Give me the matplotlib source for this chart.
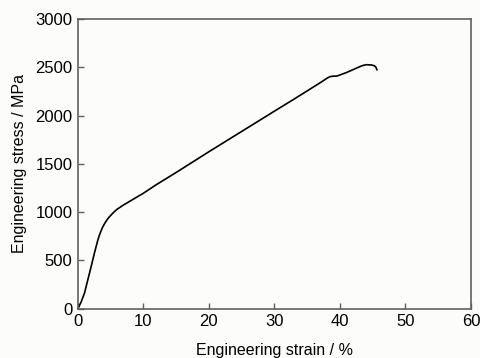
import numpy as np
import matplotlib
matplotlib.use('Agg')
import matplotlib.pyplot as plt

plt.rcParams['font.family'] = ['Liberation Sans', 'DejaVu Sans']

# engineering stress-strain curve
strain = [0, 0.5, 1.0, 1.5, 2.0, 2.5, 3.0, 3.25, 3.5, 3.75, 4.0, 4.25, 4.5, 4.75, 5.0,
          5.5, 6.0, 7.0, 8.0, 9.0, 10, 11, 12, 15, 20, 25, 30, 33, 35, 37, 37.5, 38,
          38.5, 39, 39.5, 40, 41, 42, 43, 43.5, 44.0, 44.8, 45.3, 45.5, 45.65]
stress = [0, 70, 160, 295, 430, 570, 700, 755, 800, 840, 872, 900, 925, 947, 965,
          1000, 1030, 1075, 1115, 1155, 1195, 1240, 1285, 1410, 1625, 1835, 2045, 2170,
          2255, 2340, 2362, 2385, 2403, 2408, 2408, 2420, 2445, 2475, 2505,
          2518, 2526, 2524, 2514, 2500, 2475]

fig = plt.figure(figsize=(4.81, 3.58), dpi=100, facecolor='#fcfcfa')
ax = fig.add_axes([0.162, 0.138, 0.817, 0.809])
ax.set_facecolor('#fcfcfa')

ax.plot(strain, stress, color='black', lw=1.2)

ax.set_xlim(0, 60)
ax.set_ylim(0, 3000)
ax.set_xticks(np.arange(0, 61, 10))
ax.set_yticks(np.arange(0, 3001, 500))
ax.tick_params(direction='in', length=4, width=1, color='#606060',
               labelsize=12, pad=4, top=False, right=False)
for s in ax.spines.values():
    s.set_color('#606060')
    s.set_linewidth(1.2)

ax.set_xlabel('Engineering strain / %', fontsize=11.5, labelpad=10)
ax.set_ylabel('Engineering stress / MPa', fontsize=11.5, labelpad=6)

fig.savefig('out.png', dpi=100, facecolor=fig.get_facecolor())
